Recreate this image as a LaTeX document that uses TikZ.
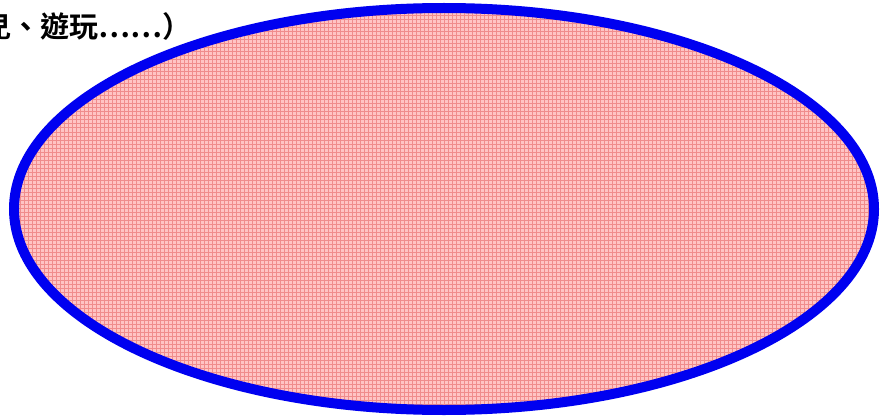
\documentclass[tikz,border=0pt]{standalone}
\usepackage{fontspec}
\newfontfamily\cjk{Noto Sans CJK TC}[BoldFont={Noto Sans CJK TC Bold}]
\definecolor{pinkfill}{RGB}{255,196,196}
\definecolor{pinkline}{RGB}{240,140,140}
\definecolor{ringblue}{RGB}{0,0,240}
\tikzset{
  ring/.style={draw=ringblue, line width=10pt},
  label/.style={font=\cjk\bfseries\fontsize{29}{32}\selectfont, inner sep=0pt, text=black}
}
\begin{document}
\begin{tikzpicture}[x=1pt,y=-1pt]
\useasboundingbox (0,0) rectangle (880,417);
\begin{scope}
  \clip (444,209) ellipse [x radius=430, y radius=201];
  \fill[pinkfill] (0,0) rectangle (880,417);
  \draw[pinkline, line width=1pt, step=4pt] (0,0) grid (880,417);
\end{scope}
\draw[ring] (444,209) ellipse [x radius=430, y radius=201];
\node[label, anchor=base east] (txt) at (192,38) {兒、遊玩⋯⋯）};
\end{tikzpicture}
\end{document}
